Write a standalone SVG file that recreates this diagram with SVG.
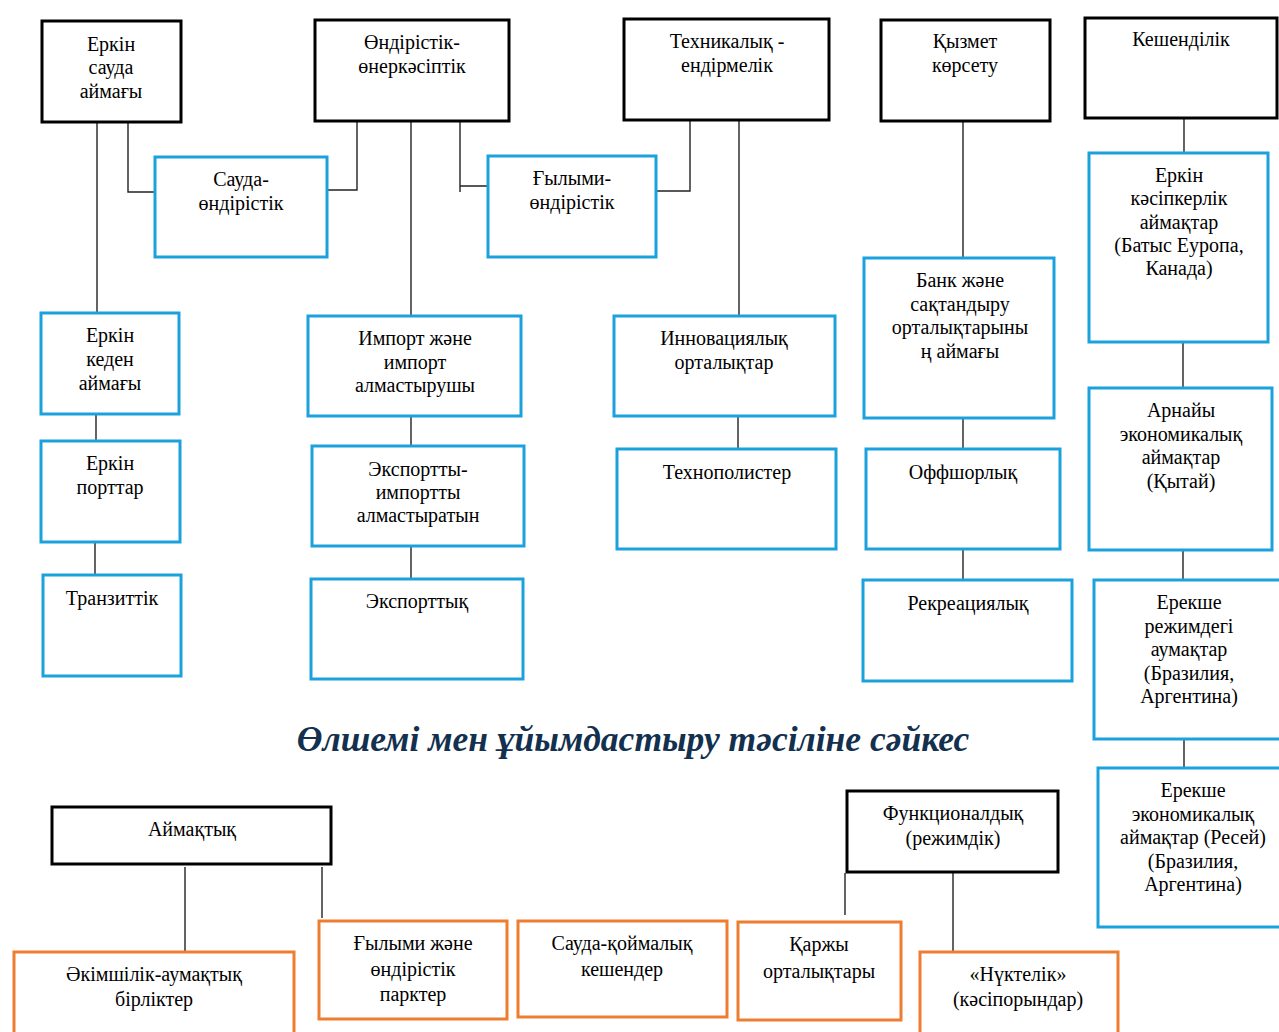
<svg xmlns="http://www.w3.org/2000/svg" width="1279" height="1032" viewBox="0 0 1279 1032">
<style>
.bk{fill:#fff;stroke:#000;stroke-width:3}
.bl{fill:#fff;stroke:#1ba1de;stroke-width:3}
.or{fill:#fff;stroke:#ed7d31;stroke-width:3}
text{font-family:"Liberation Serif","Times New Roman",serif;font-size:20px;fill:#000;text-anchor:middle}
.title{font-size:35.5px;font-weight:bold;font-style:italic;fill:#13304f}
#connectors path{fill:none;stroke:#222;stroke-width:1.4}
</style>
<rect width="1279" height="1032" fill="#fff"/>
<g id="connectors">
<path d="M97 122V313"/>
<path d="M128 123V192H158"/>
<path d="M357 121V190H328"/>
<path d="M411 121V316"/>
<path d="M460 121V192M460 186H488"/>
<path d="M690 120V191H656"/>
<path d="M739 120V316"/>
<path d="M963 121V258"/>
<path d="M1184 118V153"/>
<path d="M96 415V441"/>
<path d="M95 542V575"/>
<path d="M411 417V445"/>
<path d="M411 547V578"/>
<path d="M738 417V449"/>
<path d="M963 418V449"/>
<path d="M963 549V580"/>
<path d="M1183 342V388"/>
<path d="M1183 550V580"/>
<path d="M1184 739V768"/>
<path d="M185 867V951"/>
<path d="M322 867V918"/>
<path d="M845 873V915"/>
<path d="M953 868V952"/>
</g>
<g id="n1"><rect class="bk" x="42" y="21" width="139" height="101"/><text x="111" y="51">Еркін</text><text x="111" y="74">сауда</text><text x="111" y="98">аймағы</text></g>
<g id="n2"><rect class="bk" x="315" y="20" width="194" height="101"/><text x="412" y="49">Өндірістік-</text><text x="412" y="73">өнеркәсіптік</text></g>
<g id="n3"><rect class="bk" x="624" y="19" width="205" height="101"/><text x="727" y="48">Техникалық -</text><text x="727" y="72">ендірмелік</text></g>
<g id="n4"><rect class="bk" x="881" y="20" width="169" height="101"/><text x="965" y="48">Қызмет</text><text x="965" y="72">көрсету</text></g>
<g id="n5"><rect class="bk" x="1085" y="18" width="192" height="100"/><text x="1181" y="46">Кешенділік</text></g>
<g id="n6"><rect class="bl" x="155" y="157" width="172" height="100"/><text x="241" y="186">Сауда-</text><text x="241" y="210">өндірістік</text></g>
<g id="n7"><rect class="bl" x="488" y="156" width="168" height="101"/><text x="572" y="185">Ғылыми-</text><text x="572" y="209">өндірістік</text></g>
<g id="n8"><rect class="bl" x="1089" y="153" width="179" height="189"/><text x="1179" y="182">Еркін</text><text x="1179" y="205">кәсіпкерлік</text><text x="1179" y="229">аймақтар</text><text x="1179" y="252">(Батыс Еуропа,</text><text x="1179" y="275">Канада)</text></g>
<g id="n9"><rect class="bl" x="41" y="313" width="138" height="101"/><text x="110" y="342">Еркін</text><text x="110" y="366">кеден</text><text x="110" y="390">аймағы</text></g>
<g id="n10"><rect class="bl" x="41" y="441" width="139" height="101"/><text x="110" y="470">Еркін</text><text x="110" y="494">порттар</text></g>
<g id="n11"><rect class="bl" x="43" y="575" width="138" height="101"/><text x="112" y="605">Транзиттік</text></g>
<g id="n12"><rect class="bl" x="308" y="316" width="213" height="100"/><text x="415" y="345">Импорт және</text><text x="415" y="369">импорт</text><text x="415" y="392">алмастырушы</text></g>
<g id="n13"><rect class="bl" x="312" y="446" width="212" height="100"/><text x="418" y="476">Экспортты-</text><text x="418" y="499">импортты</text><text x="418" y="522">алмастыратын</text></g>
<g id="n14"><rect class="bl" x="311" y="579" width="212" height="100"/><text x="417" y="608">Экспорттық</text></g>
<g id="n15"><rect class="bl" x="614" y="316" width="221" height="100"/><text x="724" y="345">Инновациялық</text><text x="724" y="369">орталықтар</text></g>
<g id="n16"><rect class="bl" x="617" y="449" width="219" height="100"/><text x="727" y="479">Технополистер</text></g>
<g id="n17"><rect class="bl" x="864" y="258" width="190" height="160"/><text x="960" y="287">Банк және</text><text x="960" y="311">сақтандыру</text><text x="960" y="334">орталықтарыны</text><text x="960" y="358">ң аймағы</text></g>
<g id="n18"><rect class="bl" x="866" y="449" width="194" height="100"/><text x="963" y="479">Оффшорлық</text></g>
<g id="n19"><rect class="bl" x="863" y="580" width="209" height="101"/><text x="968" y="610">Рекреациялық</text></g>
<g id="n20"><rect class="bl" x="1089" y="388" width="183" height="162"/><text x="1181" y="417">Арнайы</text><text x="1181" y="441">экономикалық</text><text x="1181" y="464">аймақтар</text><text x="1181" y="488">(Қытай)</text></g>
<g id="n21"><rect class="bl" x="1094" y="580" width="195" height="159"/><text x="1189" y="609">Ерекше</text><text x="1189" y="633">режимдегі</text><text x="1189" y="656">аумақтар</text><text x="1189" y="680">(Бразилия,</text><text x="1189" y="703">Аргентина)</text></g>
<g id="n22"><rect class="bl" x="1098" y="768" width="191" height="159"/><text x="1193" y="797">Ерекше</text><text x="1193" y="821">экономикалық</text><text x="1193" y="844">аймақтар (Ресей)</text><text x="1193" y="868">(Бразилия,</text><text x="1193" y="891">Аргентина)</text></g>
<text class="title" x="633" y="751">Өлшемі мен ұйымдастыру тәсіліне сәйкес</text>
<g id="n23"><rect class="bk" x="52" y="807" width="279" height="57"/><text x="192" y="836">Аймақтық</text></g>
<g id="n24"><rect class="bk" x="847" y="791" width="211" height="81"/><text x="953" y="820">Функционалдық</text><text x="953" y="845">(режимдік)</text></g>
<g id="n25"><rect class="or" x="14" y="952" width="280" height="90"/><text x="154" y="981">Әкімшілік-аумақтық</text><text x="154" y="1006">бірліктер</text></g>
<g id="n26"><rect class="or" x="319" y="921" width="188" height="98"/><text x="413" y="950">Ғылыми және</text><text x="413" y="976">өндірістік</text><text x="413" y="1001">парктер</text></g>
<g id="n27"><rect class="or" x="518" y="921" width="209" height="96"/><text x="622" y="950">Сауда-қоймалық</text><text x="622" y="976">кешендер</text></g>
<g id="n28"><rect class="or" x="738" y="922" width="163" height="98"/><text x="819" y="951">Қаржы</text><text x="819" y="978">орталықтары</text></g>
<g id="n29"><rect class="or" x="920" y="952" width="198" height="90"/><text x="1018" y="981">«Нүктелік»</text><text x="1018" y="1006">(кәсіпорындар)</text></g>
</svg>
